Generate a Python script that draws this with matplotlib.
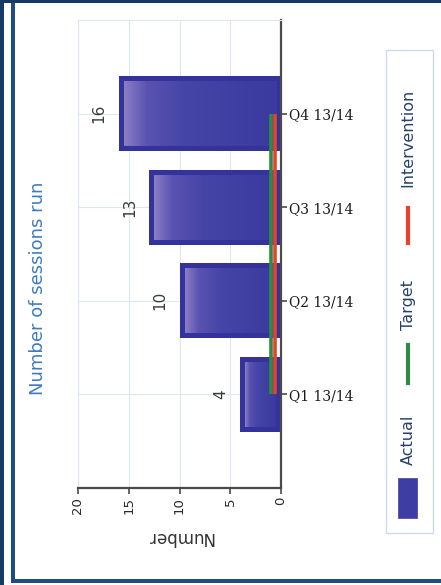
import numpy as np
import matplotlib
matplotlib.use('Agg')
import matplotlib.pyplot as plt
from matplotlib.colors import LinearSegmentedColormap
from matplotlib.patches import Rectangle
from matplotlib.lines import Line2D

# data
quarters = ['Q1 13/14', 'Q2 13/14', 'Q3 13/14', 'Q4 13/14']
actual = [4, 10, 13, 16]
target = [1, 1, 1, 1]
intervention = [0.6, 0.6, 0.6, 0.6]
number_ticks = [0, 5, 10, 15, 20]

W, H = 441, 585
fig = plt.figure(figsize=(W / 100, H / 100), dpi=100)
fig.patch.set_facecolor('white')


def fx(px):
    return px / W


def fy(py):
    return 1 - py / H


# navy frame round the picture
outer = '#163a66'
inner = '#1e4e80'
for (x, y, w, h, c) in [(0, 0, 4, H, outer), (0, 0, W, 3, outer),
                        (11, 3, 4, 580, inner), (11, 579, W - 11, 4, inner)]:
    fig.patches.append(Rectangle((fx(x), fy(y + h)), w / W, h / H,
                                 transform=fig.transFigure, color=c, lw=0))

ax = fig.add_axes([fx(78), fy(488), (281 - 78) / W, (488 - 20) / H])
idx = np.arange(len(quarters))

bars = ax.barh(idx, actual, height=0.8, color='#33339b', zorder=2)

# gradient inside each bar, leaving a dark border
px_x = (281 - 78) / 20.0
px_y = (488 - 20) / 5.0
bx, by = 5 / px_x, 5 / px_y
grad = np.linspace(0, 1, 256).reshape(1, -1)
cmap = LinearSegmentedColormap.from_list(
    'bar', [(0, '#3a3a9f'), (0.6, '#4545a7'), (0.85, '#5a52b0'), (1, '#8a7ec6')])
for b in bars:
    x0, y0, w, h = b.get_x(), b.get_y(), b.get_width(), b.get_height()
    ax.imshow(grad, cmap=cmap, extent=(x0 + bx, x0 + w - bx, y0 + by, y0 + h - by),
              aspect='auto', zorder=2.5, interpolation='bilinear')

ax.plot(target, idx, color='#2e8b47', lw=2.6, zorder=3, solid_capstyle='butt')
ax.plot(intervention, idx, color='#e8412c', lw=2.6, zorder=3.1, solid_capstyle='butt')

ax.set_xlim(20, 0)
ax.set_ylim(-1, len(quarters))

for i, v in enumerate(actual):
    ax.annotate(str(v), xy=(v, i), xytext=(-14, 0), textcoords='offset points',
                rotation=90, ha='center', va='center', fontsize=11, color='#3a3a3a')

# axes styling
for s in ['bottom', 'right']:
    ax.spines[s].set_color('#4a4a4a')
    ax.spines[s].set_linewidth(1.6)
for s in ['left', 'top']:
    ax.spines[s].set_color('#dbe8f2')
    ax.spines[s].set_linewidth(0.8)

ax.yaxis.tick_right()
ax.set_yticks(idx)
ax.set_yticklabels(quarters, fontfamily='DejaVu Serif', fontsize=10, color='#1a1a1a')
ax.tick_params(axis='y', length=4, width=1.2, color='#4a4a4a', pad=1.5, right=True, left=False)
ax.set_xticks(number_ticks)
ax.set_xticklabels([str(t) for t in number_ticks], rotation=90, fontsize=9.5, color='#2a2a2a')
ax.tick_params(axis='x', length=4, width=1.2, color='#4a4a4a', pad=2.5)
ax.grid(True, color='#dbe8f2', lw=0.8)
ax.set_axisbelow(True)
ax.set_xlabel('Number', rotation=180, fontsize=12, color='#333333', labelpad=10)

fig.text(fx(38), fy(288), 'Number of sessions run', rotation=90, ha='center', va='center',
         fontsize=13, color='#3d7abf')

# legend, drawn on its side like the rest of the chart
fig.patches.append(Rectangle((fx(386), fy(533)), 47 / W, (533 - 50) / H, transform=fig.transFigure,
                             facecolor='white', edgecolor='#c9dced', lw=1))
fig.patches.append(Rectangle((fx(398), fy(518)), 19 / W, 40 / H, transform=fig.transFigure,
                             facecolor='#3d3da3', edgecolor='#5a4aa8', lw=0.6))
fig.lines.append(Line2D([fx(408)] * 2, [fy(383), fy(345)], transform=fig.transFigure,
                        color='#2e8b47', lw=3))
fig.lines.append(Line2D([fx(408)] * 2, [fy(243), fy(208)], transform=fig.transFigure,
                        color='#e8412c', lw=3))
legend_col = '#27406b'
fig.text(fx(408), fy(440), 'Actual', rotation=90, ha='center', va='center', fontsize=11.5, color=legend_col)
fig.text(fx(408), fy(305), 'Target', rotation=90, ha='center', va='center', fontsize=11.5, color=legend_col)
fig.text(fx(408), fy(138), 'Intervention', rotation=90, ha='center', va='center', fontsize=11.5, color=legend_col)

fig.savefig('out.png', dpi=100)
